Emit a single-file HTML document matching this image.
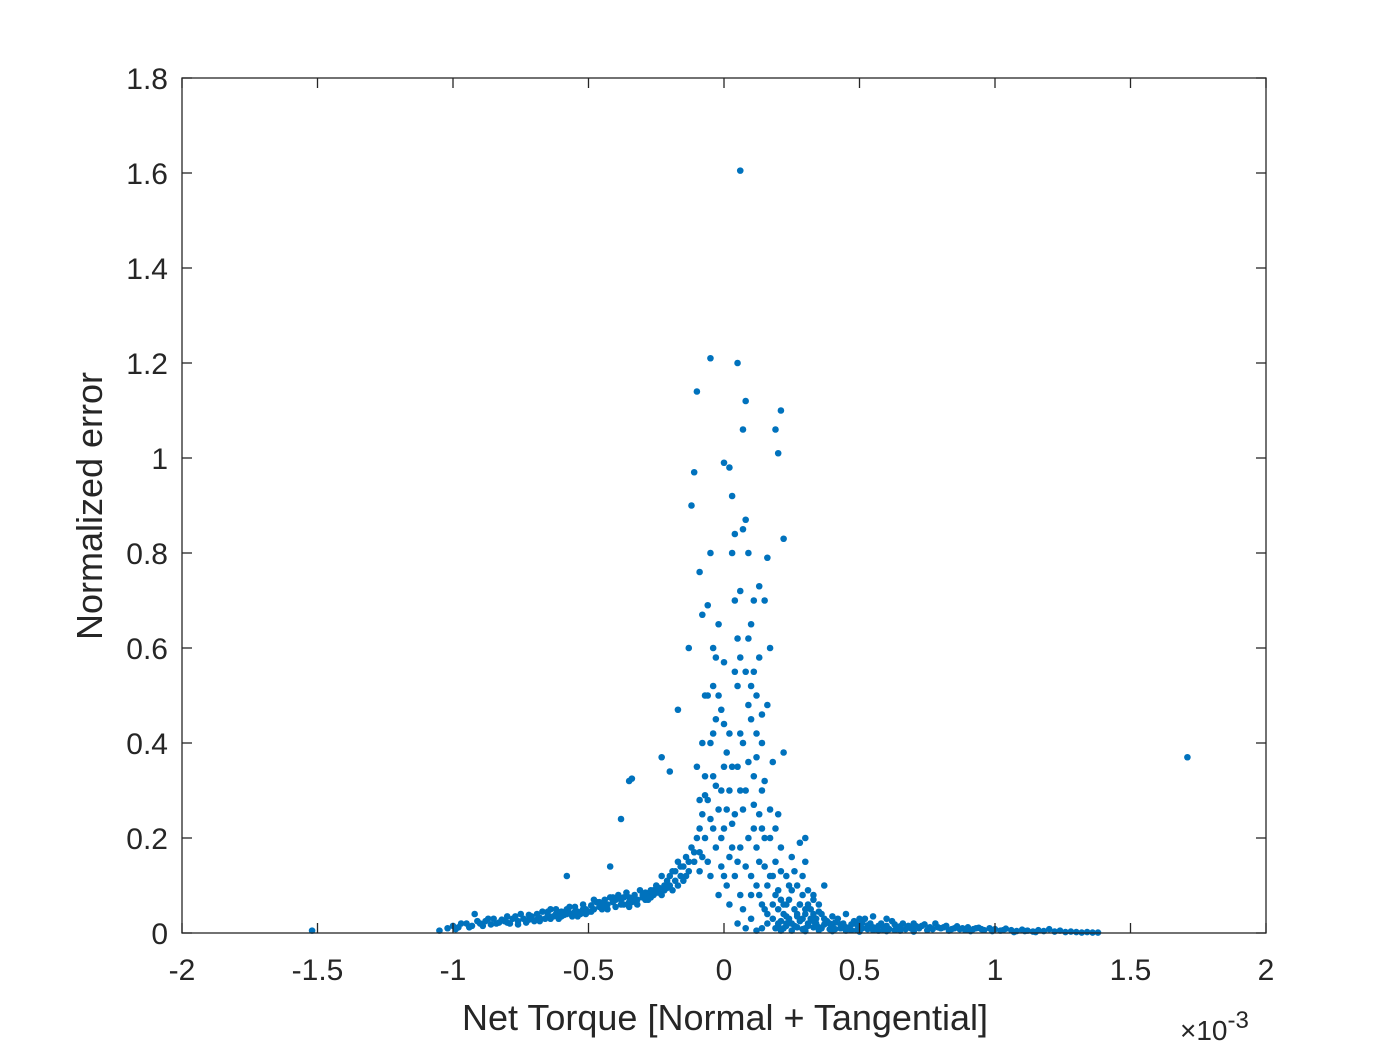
<!DOCTYPE html>
<html><head><meta charset="utf-8"><style>
body{margin:0;background:#fff;}
svg{display:block;font-family:"Liberation Sans",Arial,sans-serif;}
</style></head><body>
<svg id="chart" width="1400" height="1050" viewBox="0 0 1400 1050">
<rect x="0" y="0" width="1400" height="1050" fill="#fff"/>
<g id="marks"></g>
<g id="axes"></g>
</svg>
<script>
const xTicks=[-2,-1.5,-1,-0.5,0,0.5,1,1.5,2];
const xTickLabels=["-2","-1.5","-1","-0.5","0","0.5","1","1.5","2"];
const yTicks=[0,0.2,0.4,0.6,0.8,1,1.2,1.4,1.6,1.8];
const yTickLabels=["0","0.2","0.4","0.6","0.8","1","1.2","1.4","1.6","1.8"];
const leftBand=[[-1.05,.005],[-1.02,.01],[-1,.015],[-0.98,.012],[-0.95,.02],[-0.93,.015],[-0.92,.04],[-0.9,.02],[-0.88,.025],[-0.86,.018],[-0.85,.03],[-0.83,.022],[-0.82,.028],[-0.8,.035],[-0.79,.02],[-0.78,.03],[-0.76,.025],[-0.75,.04],[-0.74,.03],[-0.72,.028],[-0.71,.035],[-0.7,.025],[-0.69,.04],[-0.68,.032],[-0.67,.045],[-0.66,.03],[-0.65,.038],[-0.64,.05],[-0.63,.035],[-0.62,.04],[-0.61,.03],[-0.6,.045],[-0.59,.038],[-0.58,.05],[-0.57,.042],[-0.56,.035],[-0.55,.055],[-0.54,.045],[-0.53,.04],[-0.52,.06],[-0.51,.05],[-0.5,.045],[-0.49,.058],[-0.48,.05],[-0.47,.065],[-0.46,.055],[-0.45,.05],[-0.44,.07],[-0.43,.06],[-0.42,.075],[-0.41,.065],[-0.4,.055],[-0.39,.08],[-0.38,.07],[-0.37,.06],[-0.36,.085],[-0.35,.075],[-0.34,.065],[-0.33,.08],[-0.32,.07],[-0.31,.09],[-0.3,.075],[-0.29,.085],[-0.28,.07],[-0.27,.09],[-0.26,.08],[-0.25,.1],[-0.24,.085],[-0.23,.12],[-0.22,.09],[-0.21,.11],[-0.2,.1],[-0.19,.13],[-0.18,.11],[-0.17,.15],[-0.16,.12],[-0.15,.14],[-0.14,.16],[-0.13,.13],[-0.12,.18],[-0.11,.15],[-0.1,.2],[-0.09,.17],
[-0.97,.02],[-0.91,.025],[-0.87,.03],[-0.81,.025],[-0.77,.035],[-0.73,.022],[-0.69,.028],[-0.65,.045],[-0.62,.05],[-0.58,.04],[-0.55,.045],[-0.52,.05],[-0.49,.045],[-0.46,.065],[-0.44,.055],[-0.41,.075],[-0.38,.06],[-0.35,.065],[-0.33,.07],[-0.3,.08],[-0.28,.08],[-0.26,.09],[-0.24,.095],[-0.22,.1],[-0.2,.12],[-0.18,.13],[-0.16,.14],[-0.14,.12],
[-0.99,.008],[-0.94,.012],[-0.89,.015],[-0.84,.02],[-0.8,.022],[-0.76,.018],[-0.72,.038],[-0.68,.025],[-0.64,.03],[-0.6,.035],[-0.57,.055],[-0.54,.035],[-0.51,.04],[-0.48,.07],[-0.45,.06],[-0.43,.05],[-0.4,.07],[-0.37,.075],[-0.35,.055],[-0.32,.06],[-0.29,.07],[-0.27,.075],[-0.25,.085],[-0.23,.08],[-0.21,.095],[-0.19,.09],[-0.17,.1],[-0.15,.11],[-0.13,.15],[-0.11,.17],[-0.09,.13],[-0.08,.16]];
const outliers=[[-1.52,.005],[-0.58,.12],[-0.42,.14],[-0.38,.24],[-0.35,.32],[-0.34,.325],[-0.23,.37],[-0.2,.34],[-0.17,.47],[-0.13,.6],[-0.12,.9],[-0.11,.97],[-0.1,1.14],[-0.05,1.21],[0.05,1.2],[0.06,1.605],[1.71,.37]];
const center=[[-0.08,.25],[-0.07,.33],[-0.06,.28],[-0.05,.4],[-0.04,.42],[-0.03,.58],[-0.03,.45],[-0.02,.5],[-0.01,.3],[0,.22],[0,.35],[-0.06,.69],[-0.05,.8],[-0.04,.6],[0,.57],[0,.99],[0.02,.98],[0.03,.8],[0.04,.7],[0.05,.62],[0.06,.72],[0.07,.85],[0.08,.87],[0.09,.8],[0.1,.65],[0.11,.55],[0.12,.5],[0.13,.58],[0.14,.4],[0.15,.32],[0.16,.48],[0.17,.6],[0.18,.36],[0.2,.25],[0.22,.38],[0.08,1.12],[0.07,1.06],[0.19,1.06],[0.2,1.01],[0.21,1.1],[0.22,.83],[0.16,.79],[0.15,.7],[0.03,.92],[0.04,.84],[-0.08,.67],[-0.09,.76],[-0.1,.35],[-0.09,.28],[-0.07,.2],[-0.06,.15],[-0.05,.12],[-0.04,.22],[-0.03,.18],[-0.02,.26],[-0.01,.14],[0.01,.1],[0.02,.3],[0.03,.18],[0.04,.25],[0.05,.15],[0.06,.08],[0.07,.05],[0.08,.3],[0.09,.2],[0.1,.12],[0.11,.27],[0.12,.18],[0.13,.08],[0.14,.22],[0.15,.14],[0.16,.1],[0.17,.2],[0.18,.06],[0.19,.15],[0.2,.09],[0.21,.18],[0.22,.04],[0.23,.12],[0.24,.07],[0.25,.16],[0.26,.05],[0.27,.1],[0.28,.06],[0.29,.12],[0.3,.04],[0.31,.09],[0.32,.05],[0.33,.08],[0.34,.03],[0.35,.06],[0.3,.15],[0.28,.19],[0.3,.2],[0.37,.1],[0.36,.04],[0.1,.45],[0.05,.52],[0,.44],[-0.02,.65],[0.07,.4],[0.12,.37],[-0.04,.33],[0.01,.38],[0.06,.3],[0.09,.48],[0.13,.25],[0.02,.06],[0.05,.02],[0.08,.01],[0.1,.03],[0.12,.005],[0.14,.01],[0.16,.02],[0,.12],[-0.02,.08],[0.11,.7],[0.13,.73],[0.09,.62],
[-0.08,.4],[-0.07,.5],[-0.01,.47],[0.03,.35],[0.04,.55],[0.06,.42],[0.08,.55],[0.11,.33],[0.14,.3],[0.17,.26],[0.19,.22],[0.21,.13],[0.24,.1],[0.26,.13],[0.15,.05],[0.18,.12],[0.2,.05],[0.23,.02],
[-0.09,.22],[-0.07,.29],[-0.05,.24],[-0.03,.31],[-0.01,.2],[0.01,.26],[0.03,.23],[0.05,.35],[0.07,.26],[0.09,.36],[0.11,.22],[0.13,.15],[0.15,.2],[0.17,.12],[0.19,.08],[0.21,.07],[0.23,.06],[0.25,.09],[0.27,.04],[0.29,.08],[0.31,.06],[0.33,.04],[-0.06,.5],[-0.04,.52],[0.02,.42],[0.06,.58],[0.1,.52],[0.12,.42],[0.14,.46],[0.02,.16],[0.04,.12],[0.06,.18],[0.08,.14],[0.1,.08],[0.12,.1],[0.14,.06],[0.16,.04],[0.18,.03],[0.2,.015],[0.22,.06]];
const rightTail=[[0.2,.02],[0.22,.01],[0.24,.03],[0.26,.015],[0.28,.025],[0.3,.01],[0.32,.03],[0.34,.02],[0.36,.01],[0.38,.025],[0.4,.015],[0.42,.03],[0.44,.02],[0.46,.01],[0.48,.025],[0.5,.015],[0.52,.03],[0.54,.02],[0.56,.01],[0.58,.02],[0.6,.015],[0.62,.025],[0.64,.01],[0.66,.02],[0.68,.015],[0.7,.02],[0.72,.01],[0.74,.018],[0.76,.012],[0.78,.02],[0.8,.01],[0.82,.015],[0.84,.008],[0.86,.014],[0.88,.01],[0.9,.012],[0.92,.008],[0.94,.011],[0.96,.006],[0.98,.01],[1,.008],[1.02,.005],[1.04,.009],[1.06,.006],[1.08,.004],[1.1,.007],[1.12,.005],[1.14,.003],[1.16,.006],[1.18,.004],[1.2,.008],[1.22,.003],[1.24,.005],[1.26,.002],[1.28,.003],[1.3,.002],[1.32,.001],[1.34,.002],[1.36,.001],[1.38,.001],[0.25,.005],[0.3,.004],[0.35,.006],[0.4,.004],[0.45,.005],[0.5,.003],[0.55,.006],[0.6,.004],[0.65,.005],[0.7,.003],[0.3,.05],[0.35,.045],[0.4,.035],[0.45,.04],[0.5,.03],[0.55,.035],[0.6,.03],[0.28,.06],[0.33,.07],
[0.21,.005],[0.23,.015],[0.27,.035],[0.29,.008],[0.31,.02],[0.33,.012],[0.37,.03],[0.39,.008],[0.41,.022],[0.43,.01],[0.47,.018],[0.49,.006],[0.51,.022],[0.53,.008],[0.57,.015],[0.59,.006],[0.63,.018],[0.67,.008],[0.71,.014],[0.75,.006],[0.79,.012],[0.83,.005],[0.87,.008],[0.91,.004],[0.95,.008],[0.99,.004],[1.03,.006],[1.07,.002],[1.11,.004],[1.15,.002],
[0.19,.01],[0.21,.025],[0.23,.035],[0.25,.02],[0.27,.012],[0.29,.03],[0.31,.015],[0.33,.025],[0.35,.012],[0.37,.018],[0.39,.02],[0.41,.008],[0.43,.018],[0.45,.012],[0.47,.006],[0.49,.018],[0.51,.01],[0.53,.016],[0.55,.012],[0.57,.005],[0.59,.012],[0.61,.008],[0.63,.006],[0.65,.014],[0.69,.01],[0.73,.015],[0.77,.008],[0.81,.012],[0.85,.01],[0.89,.006],[0.93,.01]];

const X0=182,X1=1266,Y0=933,Y1=78;
function sx(v){return X0+(v+2)/4*(X1-X0);}
function sy(v){return Y0-v/1.8*(Y0-Y1);}
const NS="http://www.w3.org/2000/svg";
function mk(tag,attrs,parent){const e=document.createElementNS(NS,tag);for(const k in attrs)e.setAttribute(k,attrs[k]);parent.appendChild(e);return e;}
const marks=document.getElementById('marks');
[leftBand,outliers,center,rightTail].forEach(series=>{
  series.forEach(p=>{
    const c=mk('circle',{cx:sx(p[0]),cy:sy(p[1]),r:3.3,fill:'#0072BD'},marks);
    
    
  });
});
const ax=document.getElementById('axes');
const box=mk('rect',{x:X0,y:Y1,width:X1-X0,height:Y0-Y1,fill:'none',stroke:'#262626','stroke-width':1.3},ax);


xTicks.forEach((t,i)=>{
  const x=sx(t);
  mk('line',{x1:x,y1:Y0,x2:x,y2:Y0-10,stroke:'#262626','stroke-width':1.3},ax);
  mk('line',{x1:x,y1:Y1,x2:x,y2:Y1+10,stroke:'#262626','stroke-width':1.3},ax);
  const tx=mk('text',{x:x,y:980,'text-anchor':'middle','font-size':30,fill:'#262626'},ax);
  tx.textContent=xTickLabels[i];
  
  
});
yTicks.forEach((t,i)=>{
  const y=sy(t);
  mk('line',{x1:X0,y1:y,x2:X0+10,y2:y,stroke:'#262626','stroke-width':1.3},ax);
  mk('line',{x1:X1,y1:y,x2:X1-10,y2:y,stroke:'#262626','stroke-width':1.3},ax);
  const tx=mk('text',{x:168,y:y+11,'text-anchor':'end','font-size':30,fill:'#262626'},ax);
  tx.textContent=yTickLabels[i];
  
  
});
const xl=mk('text',{x:725,y:1030,'text-anchor':'middle','font-size':36,fill:'#262626'},ax);
xl.textContent='Net Torque [Normal + Tangential]';


const yl=mk('text',{x:0,y:0,'text-anchor':'middle','font-size':36,fill:'#262626',transform:'translate(102,506) rotate(-90)'},ax);
yl.textContent='Normalized error';


const ex=mk('text',{x:1180,y:1040,'font-size':28,fill:'#262626'},ax);
ex.innerHTML='×10<tspan dy="-12" font-size="24">-3</tspan>';


</script>
</body></html>
